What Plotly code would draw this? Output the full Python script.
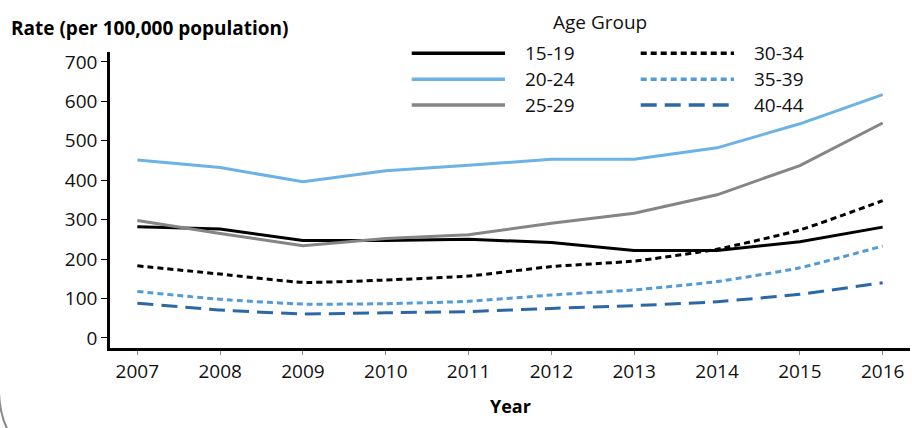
import plotly.graph_objects as go

years = [2007, 2008, 2009, 2010, 2011, 2012, 2013, 2014, 2015, 2016]
age_groups = ["15-19", "20-24", "25-29", "30-34", "35-39", "40-44"]
rate_15_19 = [282, 276, 247, 247, 250, 242, 222, 222, 244, 281]
rate_20_24 = [451, 432, 396, 424, 438, 453, 453, 482, 543, 617]
rate_25_29 = [298, 265, 234, 252, 262, 291, 316, 363, 437, 545]
rate_30_34 = [183, 162, 141, 147, 157, 181, 195, 225, 274, 348]
rate_35_39 = [118, 98, 86, 87, 93, 109, 122, 143, 178, 233]
rate_40_44 = [88, 71, 61, 64, 67, 75, 82, 92, 111, 140]
y_ticks = [0, 100, 200, 300, 400, 500, 600, 700]

series = [rate_15_19, rate_20_24, rate_25_29, rate_30_34, rate_35_39, rate_40_44]
colors = ["#000000", "#6cb2e4", "#858585", "#000000", "#529bd7", "#2d68a6"]
dashes = ["solid", "solid", "solid", "6px,4px", "6px,4px", "16px,8px"]
shapes_ = ["linear", "linear", "linear", "spline", "spline", "spline"]

FONT = "Open Sans"
TICK_SIZE = 19
fig = go.Figure()
for name, vals, c, d, s in zip(age_groups, series, colors, dashes, shapes_):
    fig.add_trace(go.Scatter(
        x=years, y=vals, name=name, mode="lines",
        line=dict(color=c, width=3, dash=d, shape=s, smoothing=0.5),
        showlegend=False,
    ))

# manual legend (two columns)
def px_to_paper_x(px):
    return (px - 110) / 800

def px_to_paper_y(py):
    return (348 - py) / 296

col_line = [(411.7, 505.0), (640.7, 734.0)]
col_text = [523.0, 751.5]
row_y = [53.3, 79.3, 105.0]
shapes = []
annotations = []
for i, (name, c, d) in enumerate(zip(age_groups, colors, dashes)):
    col = i // 3
    row = i % 3
    y = px_to_paper_y(row_y[row])
    shapes.append(dict(type="line", xref="paper", yref="paper",
                       x0=px_to_paper_x(col_line[col][0]), x1=px_to_paper_x(col_line[col][1]),
                       y0=y, y1=y, line=dict(color=c, width=3.5, dash=d)))
    annotations.append(dict(text=name, xref="paper", yref="paper",
                            x=px_to_paper_x(col_text[col]), y=y, xanchor="left", yanchor="middle",
                            showarrow=False, font=dict(family=FONT, size=TICK_SIZE, color="#111111")))

annotations.append(dict(text="Age Group", xref="paper", yref="paper",
                        x=px_to_paper_x(600), y=px_to_paper_y(22), xanchor="center", yanchor="middle",
                        showarrow=False, font=dict(family=FONT, size=TICK_SIZE, color="#111111")))
annotations.append(dict(text="<b>Rate (per 100,000 population)</b>", xref="paper", yref="paper",
                        x=px_to_paper_x(9), y=px_to_paper_y(28), xanchor="left", yanchor="middle",
                        showarrow=False, font=dict(family=FONT, size=19, color="#000000")))
annotations.append(dict(text="<b>Year</b>", xref="paper", yref="paper",
                        x=px_to_paper_x(510), y=px_to_paper_y(406), xanchor="center", yanchor="middle",
                        showarrow=False, font=dict(family=FONT, size=18, color="#000000")))

# rounded frame corner (bottom-left)
shapes.append(dict(type="path", xref="paper", yref="paper",
                   path="M {:.4f},{:.4f} Q {:.4f},{:.4f} {:.4f},{:.4f}".format(
                       px_to_paper_x(-1), px_to_paper_y(392),
                       px_to_paper_x(1), px_to_paper_y(455),
                       px_to_paper_x(60), px_to_paper_y(462)),
                   line=dict(color="#8a8a8a", width=2)))

fig.update_layout(
    width=912, height=428,
    margin=dict(l=110, r=2, t=52, b=80),
    paper_bgcolor="white", plot_bgcolor="white",
    font=dict(family=FONT, size=TICK_SIZE, color="#111111"),
    shapes=shapes, annotations=annotations,
    showlegend=False,
)
fig.update_xaxes(range=[2006.67, 2016.33], tickvals=years, showgrid=False, zeroline=False,
                 showline=True, linecolor="black", linewidth=2.5,
                 ticks="outside", ticklen=4, tickwidth=1, tickcolor="#888888",
                 tickfont=dict(family=FONT, size=TICK_SIZE, color="#111111"))
fig.update_yaxes(range=[-25.4, 725], tickvals=y_ticks, showgrid=False, zeroline=False,
                 showline=True, linecolor="black", linewidth=2.5,
                 ticks="outside", ticklen=6, tickwidth=1, tickcolor="black",
                 tickfont=dict(family=FONT, size=TICK_SIZE, color="#111111"))

fig.write_html("out.html", config={"displayModeBar": False},
               post_script="document.body.style.margin='0';document.body.style.overflow='hidden';")
